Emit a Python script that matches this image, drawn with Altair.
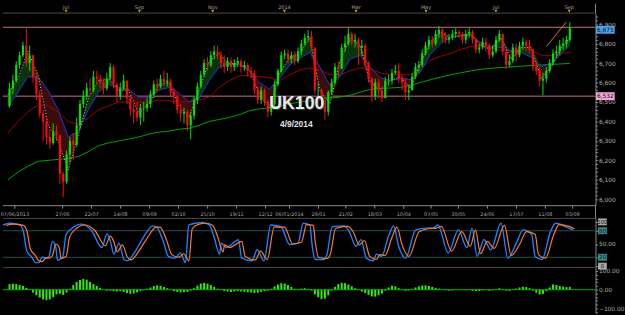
import altair as alt
import pandas as pd

# ---------------- data ----------------
# 2-day candles, trading-day index 2*i+1 (day 0 = first session on the chart)
close = [6570,6610,6690,6740,6790,6700,6740,6630,6540,6440,
         6400,6320,6290,6350,6330,6130,6090,6230,6300,6280,
         6380,6490,6530,6570,6560,6630,6620,6600,6570,6620,
         6680,6590,6530,6570,6610,6520,6460,6450,6420,6470,
         6470,6490,6540,6590,6580,6620,6600,6610,6550,6530,
         6460,6440,6450,6380,6430,6510,6580,6640,6700,6690,
         6740,6760,6740,6700,6680,6710,6680,6700,6710,6680,
         6690,6660,6650,6560,6510,6560,6500,6450,6490,6590,
         6660,6740,6750,6720,6740,6710,6760,6800,6830,6840,
         6780,6560,6560,6510,6450,6550,6600,6680,6670,6780,
         6800,6850,6810,6820,6780,6790,6700,6620,6530,6600,
         6560,6520,6610,6610,6650,6660,6620,6600,6550,6560,
         6630,6680,6690,6750,6790,6820,6800,6850,6870,6830,
         6820,6830,6850,6860,6850,6820,6850,6860,6820,6770,
         6780,6810,6790,6740,6760,6820,6850,6760,6690,6710,
         6780,6740,6790,6810,6790,6770,6680,6660,6610,6620,
         6660,6700,6750,6760,6790,6800,6820,6880]
high = [6600,6640,6710,6760,6810,6875,6790,6740,6650,6560,
        6460,6420,6360,6390,6380,6330,6140,6250,6320,6340,
        6420,6510,6560,6600,6620,6660,6660,6640,6620,6650,
        6700,6690,6600,6600,6640,6610,6530,6490,6500,6490,
        6500,6520,6560,6610,6620,6640,6660,6650,6620,6570,
        6540,6490,6470,6460,6450,6530,6600,6660,6720,6730,
        6760,6790,6790,6760,6740,6730,6730,6720,6730,6720,
        6710,6700,6680,6660,6580,6580,6570,6510,6520,6610,
        6670,6760,6770,6770,6760,6760,6780,6820,6850,6870,
        6865,6780,6600,6570,6510,6560,6620,6700,6710,6800,
        6840,6880,6860,6850,6830,6820,6800,6710,6630,6620,
        6620,6580,6630,6640,6670,6690,6700,6640,6620,6590,
        6650,6700,6710,6770,6810,6840,6840,6870,6890,6885,
        6860,6850,6870,6880,6870,6860,6870,6880,6870,6830,
        6800,6830,6830,6800,6790,6840,6870,6850,6760,6740,
        6800,6800,6810,6830,6820,6820,6770,6710,6680,6650,
        6680,6720,6770,6790,6820,6830,6840,6910]
low = [6470,6540,6600,6670,6730,6680,6660,6600,6510,6420,
       6300,6280,6260,6280,6300,6080,6010,6080,6190,6200,
       6270,6360,6470,6510,6540,6550,6590,6570,6540,6560,
       6610,6570,6500,6510,6560,6490,6430,6390,6400,6380,
       6400,6450,6470,6520,6550,6570,6580,6580,6530,6490,
       6440,6400,6390,6350,6310,6410,6490,6570,6630,6660,
       6680,6720,6720,6670,6650,6660,6650,6660,6680,6650,
       6660,6630,6620,6540,6490,6490,6480,6420,6430,6470,
       6580,6650,6720,6700,6700,6690,6700,6740,6790,6810,
       6760,6540,6520,6480,6410,6430,6540,6590,6630,6670,
       6760,6790,6790,6780,6690,6740,6680,6600,6500,6510,
       6520,6500,6520,6580,6590,6640,6600,6560,6510,6510,
       6560,6620,6650,6680,6740,6770,6780,6790,6830,6810,
       6800,6800,6820,6830,6830,6800,6800,6830,6800,6750,
       6750,6770,6760,6720,6730,6750,6810,6740,6670,6680,
       6700,6710,6730,6770,6770,6750,6660,6640,6580,6535,
       6600,6650,6690,6730,6740,6770,6780,6810]
first_open = 6480

# moving averages sampled every 6 sessions
ma_days = [0,6,12,18,24,30,36,42,48,54,60,66,72,78,84,90,96,102,108,114,
           120,126,132,138,144,150,156,162,168,174,180,186,192,198,204,210,
           216,222,228,234,240,246,252,258,264,270,276,282,288,294,300,306,
           312,318,324,330,335]
fast_ma = [6540,6620,6760,6640,6380,6300,6150,6330,6520,6610,
           6620,6560,6560,6440,6490,6590,6600,6480,6420,6560,
           6710,6750,6695,6700,6665,6540,6470,6650,6730,6750,
           6830,6560,6490,6710,6830,6790,6600,6560,6610,6630,
           6570,6700,6810,6860,6830,6840,6850,6790,6770,6830,
           6720,6780,6780,6620,6680,6780,6830]
mid_ma = [6475,6550,6630,6625,6560,6460,6320,6350,6460,6550,
          6590,6575,6565,6525,6525,6560,6575,6545,6500,6520,
          6610,6680,6695,6690,6665,6600,6565,6620,6690,6725,
          6755,6680,6585,6630,6720,6740,6680,6625,6610,6620,
          6615,6655,6745,6800,6830,6845,6840,6805,6785,6780,
          6760,6755,6730,6680,6700,6750,6790]
slow_ma = [6340,6400,6450,6485,6480,6450,6400,6385,6420,6460,
           6480,6500,6500,6500,6500,6510,6505,6500,6500,6510,
           6525,6575,6610,6635,6635,6630,6625,6610,6640,6665,
           6675,6665,6640,6640,6660,6675,6670,6650,6640,6640,
           6640,6670,6715,6735,6750,6770,6785,6790,6780,6765,
           6765,6765,6765,6740,6740,6750,6755]
long_ma = [6100,6140,6170,6195,6200,6205,6210,6220,6245,6275,
           6290,6300,6310,6320,6335,6345,6350,6360,6365,6380,
           6400,6410,6420,6435,6455,6465,6470,6480,6490,6500,
           6505,6515,6520,6525,6535,6550,6565,6570,6572,6575,
           6585,6600,6615,6628,6640,6650,6660,6668,6673,6677,
           6680,6684,6688,6690,6693,6696,6698]

# stochastic %K (blue) and %D (orange)
k_days = [0,4,10,12,14,17,19,21,23,25,27,29,31,32,35,37,40,46,52,58,
          61,63,65,68,71,73,77,82,88,90,94,97,101,104,107,109,113,117,121,124,
          127,128,131,134,138,140,146,149,153,157,163,168,173,176,180,181,183,188,190,193,
          200,203,207,210,213,217,219,222,226,229,232,236,242,248,252,255,261,267,272,275,
          278,282,286,292,296,301,305,310,312,316,321,324,330,334]
k_vals = [93,97,93,78,34,20,8,8,20,18,22,56,42,13,20,71,84,95,80,42,
          73,56,27,52,15,12,30,63,91,89,56,22,18,30,8,93,97,99,93,63,
          27,52,42,49,60,18,12,37,12,93,89,49,52,97,93,56,15,15,27,89,
          91,78,45,60,18,12,27,22,67,91,45,18,82,86,86,93,30,82,42,86,
          22,60,37,97,18,52,82,71,22,15,78,97,89,82]
d_days = [2,6,12,14,16,19,21,23,25,27,29,31,33,34,37,39,42,48,54,60,
          63,65,67,70,73,75,79,84,90,92,96,99,103,106,109,111,115,119,123,126,
          129,130,133,136,140,142,148,151,155,159,165,170,175,178,182,183,185,190,192,195,
          202,205,209,212,215,219,221,224,228,231,234,238,244,250,254,257,263,269,274,277,
          280,284,288,294,298,303,307,312,314,318,323,326,332,335]
d_vals = [92,95,92,80,40,24,12,10,18,18,24,50,42,18,22,65,82,93,80,46,
          68,55,32,48,20,14,30,60,88,88,58,26,20,28,12,85,95,97,92,65,
          32,48,42,48,56,22,14,34,15,88,88,50,54,94,92,58,20,17,28,85,
          90,80,48,58,22,15,26,24,64,88,48,22,78,85,86,90,34,78,45,82,
          28,56,40,92,24,50,78,72,26,18,72,94,90,84]

# MACD histogram, one value per 2-day candle
macd_hist = [30,32,30,25,20,10,0,-15,-30,-42,
             -52,-56,-52,-40,-25,-22,-28,-15,5,25,
             42,52,58,54,42,30,20,10,0,-5,
             -5,-8,-10,-8,-12,-18,-22,-20,-14,-8,
             -3,5,12,20,23,20,15,8,0,-8,
             -12,-15,-14,-12,-5,8,22,33,37,32,
             25,15,5,-2,-8,-10,-12,-10,-8,-9,
             -12,-14,-15,-18,-16,-12,-8,-5,5,18,
             28,35,33,25,15,5,3,6,8,5,
             -5,-25,-40,-51,-48,-30,-5,15,30,37,
             35,28,18,8,-2,-10,-18,-28,-36,-37,
             -30,-20,-5,12,21,18,8,-2,-6,-4,
             5,12,18,22,23,20,15,10,6,2,
             -3,-5,-4,-2,2,3,-3,-2,-6,-8,
             -7,-4,-2,-5,-3,4,8,4,-4,-6,
             -2,6,12,16,14,8,-5,-16,-25,-22,
             -8,12,28,25,20,16,14,15]

level_prices = [6884, 6530]
tag_prices = [6871, 6530]
tag_texts = ["6,875", "6,532"]
tag_colors = ["#4aa3f0", "#f3a8d8"]
trend_days = [321, 333]
trend_prices = [6785, 6912]

st_levels = [80, 20]
st_tag_vals = [100, 80, 20, 0]
st_tag_texts = ["100", "80", "20", "0"]
st_tag_colors = ["#a8a8a8", "#3d8c8c", "#3d8c8c", "#a8a8a8"]

month_days = [37, 80, 123, 165, 207, 248, 289, 332]
month_labels = ["Jul", "Sep", "Nov", "2014", "Mar", "May", "Jul", "Sep"]
date_days = [7, 35, 52, 69, 86, 103, 120, 137, 154, 168, 185, 201, 218, 235, 251, 267, 284, 301, 318, 334]
date_labels = ["07/06/2013", "27/06", "22/07", "14/08", "09/09", "02/10", "25/10", "19/11", "12/12",
               "06/01/2014", "29/01", "21/02", "18/03", "10/04", "07/05", "30/05", "24/06", "17/07",
               "11/08", "03/09"]
title_text = ["UK100"]
date_text = ["4/9/2014"]

# ---------------- tables ----------------
bars = pd.DataFrame({"day": [2 * i + 1 for i in range(len(close))],
                     "close": close, "high": high, "low": low})
bars["open"] = [first_open] + close[:-1]
bars["dir"] = ["up" if c >= o else "down" for c, o in zip(bars["close"], bars["open"])]
bars["zero"] = 0
bars["macd"] = macd_hist

ma = pd.DataFrame({"day": ma_days, "fast": fast_ma, "mid": mid_ma, "slow": slow_ma, "long": long_ma})
ma["up_top"] = ma[["fast", "mid"]].max(axis=1)
ma["dn_bot"] = ma[["fast", "mid"]].min(axis=1)

kdf = pd.DataFrame({"day": k_days, "v": k_vals})
ddf = pd.DataFrame({"day": d_days, "v": d_vals})
one = pd.DataFrame({"a": [0]})

# ---------------- layout ----------------
W = 603
H_TOP, H_MAIN, H_DATE, H_ST, H_MACD = 10, 195, 14, 50, 46
FONT = "DejaVu Sans"
AXC = "#b0b0b0"
LINEC = "#8c8c8c"
XS = alt.Scale(domain=[0, 347.4], nice=False, zero=False)


def xq(field="day"):
    return alt.X(f"{field}:Q", scale=XS, axis=None)


def axis(values, expr):
    return alt.Axis(orient="right", values=values, labelExpr=expr, labelFontSize=6,
                    labelColor=AXC, labelFont=FONT, tickColor=LINEC, domainColor=LINEC,
                    tickSize=2, labelPadding=1, grid=False, title=None,
                    labelOverlap=False, labelFlush=False)


MAIN_AX = axis(list(range(6000, 6960, 20)),
               "datum.value % 100 == 0 ? format(datum.value, ',') : ''")
MAIN_SC = alt.Scale(domain=[5969.7, 6954.5], nice=False, zero=False)


def ym(field):
    return alt.Y(f"{field}:Q", scale=MAIN_SC, axis=MAIN_AX)


ST_AX = axis([0, 20, 50, 80, 100], "datum.value == 50 ? '50.00' : ''")
ST_SC = alt.Scale(domain=[-4.44, 106.7], nice=False, zero=False)


def ys(field):
    return alt.Y(f"{field}:Q", scale=ST_SC, axis=ST_AX)


MACD_AX = axis(list(range(-120, 120, 20)),
               "datum.value % 100 == 0 ? format(datum.value, '.2f') : ''")
MACD_SC = alt.Scale(domain=[-126.3, 115.8], nice=False, zero=False)


def yh(field):
    return alt.Y(f"{field}:Q", scale=MACD_SC, axis=MACD_AX)


candle_color = alt.Color("dir:N", scale=alt.Scale(domain=["up", "down"], range=["#00e400", "#ff0a0a"]),
                         legend=None)

# ---- top month strip ----
mdf = pd.DataFrame({"day": month_days, "label": month_labels})
top = alt.layer(
    alt.Chart(one).mark_rule(color="#4a4a4a").encode(x=alt.value(0), x2=alt.value(W), y=alt.value(9.5)),
    alt.Chart(mdf).mark_text(fontSize=5, color="#a8a8a8", font=FONT, baseline="middle").encode(
        x=xq(), y=alt.value(3.2), text="label:N"),
    alt.Chart(mdf).mark_point(shape="triangle-down", filled=True, size=10, color="#e8a000", opacity=1).encode(
        x=xq(), y=alt.value(7.5)),
    alt.Chart(one).mark_rule(color=LINEC).encode(x=alt.value(W), y=alt.value(0), y2=alt.value(H_TOP)),
).properties(width=W, height=H_TOP)

# ---- main price panel ----
layers = [
    alt.Chart(pd.DataFrame({"p": level_prices})).mark_rule(color="#c4738f", strokeWidth=1).encode(y=ym("p")),
    alt.Chart(ma).mark_area(color="#0b330b").encode(x=xq(), y=ym("mid"), y2="up_top"),
    alt.Chart(ma).mark_area(color="#3a0c0c").encode(x=xq(), y=ym("mid"), y2="dn_bot"),
    alt.Chart(ma).mark_line(color="#00a400", strokeWidth=1).encode(x=xq(), y=ym("long")),
    alt.Chart(ma).mark_line(color="#a00000", strokeWidth=1).encode(x=xq(), y=ym("slow")),
    alt.Chart(ma).mark_line(color="#2233d8", strokeWidth=1).encode(x=xq(), y=ym("mid")),
    alt.Chart(ma).mark_line(color="#d0d0d0", strokeWidth=1, strokeDash=[1, 2]).encode(x=xq(), y=ym("fast")),
    alt.Chart(bars).mark_rule(strokeWidth=1).encode(x=xq(), y=ym("low"), y2="high", color=candle_color),
    alt.Chart(bars).mark_bar(size=2.2).encode(x=xq(), y=ym("open"), y2="close", color=candle_color),
    alt.Chart(pd.DataFrame({"day": trend_days, "p": trend_prices})).mark_line(
        color="#e07020", strokeWidth=1).encode(x=xq(), y=ym("p")),
]
for p, t, c in zip(tag_prices, tag_texts, tag_colors):
    tdf = pd.DataFrame({"p": [p], "t": [t]})
    layers.append(alt.Chart(tdf).mark_tick(size=19, thickness=8, color=c, opacity=1).encode(
        x=alt.value(613), y=ym("p")))
    layers.append(alt.Chart(tdf).mark_text(fontSize=6, color="#101010", font=FONT, baseline="middle").encode(
        x=alt.value(613), y=ym("p"), text="t:N"))
tt = pd.DataFrame({"t": title_text})
dt = pd.DataFrame({"t": date_text})
layers += [
    alt.Chart(tt).mark_text(fontSize=18, fontWeight="bold", font="Liberation Sans", color="#3c3c3c",
                            baseline="alphabetic").encode(x=alt.value(300), y=alt.value(98), text="t:N"),
    alt.Chart(tt).mark_text(fontSize=18, fontWeight="bold", font="Liberation Sans", color="#e8e8e8",
                            baseline="alphabetic").encode(x=alt.value(299), y=alt.value(97), text="t:N"),
    alt.Chart(dt).mark_text(fontSize=8.5, fontWeight="bold", font="Liberation Sans", color="#e0e0e0",
                            baseline="alphabetic").encode(x=alt.value(298.5), y=alt.value(115), text="t:N"),
]
main = alt.layer(*layers).properties(width=W, height=H_MAIN)

# ---- date ruler ----
ddates = pd.DataFrame({"day": date_days, "label": date_labels})
dates = alt.layer(
    alt.Chart(one).mark_rule(color=LINEC).encode(x=alt.value(0), x2=alt.value(W), y=alt.value(0.5)),
    alt.Chart(ddates).mark_rule(color=LINEC).encode(x=xq(), y=alt.value(0.5), y2=alt.value(3.5)),
    alt.Chart(ddates).mark_text(fontSize=5, color="#a8a8a8", font=FONT, baseline="middle").encode(
        x=xq(), y=alt.value(9), text="label:N"),
    alt.Chart(one).mark_rule(color="#4a4a4a").encode(x=alt.value(0), x2=alt.value(W), y=alt.value(13.5)),
    alt.Chart(one).mark_rule(color=LINEC).encode(x=alt.value(W), y=alt.value(0), y2=alt.value(H_DATE)),
).properties(width=W, height=H_DATE)

# ---- stochastic ----
st_layers = [
    alt.Chart(pd.DataFrame({"v": st_levels})).mark_rule(color="#2b4c4c", strokeWidth=1).encode(y=ys("v")),
    alt.Chart(kdf).mark_line(color="#1e80ff", strokeWidth=1.4, interpolate="monotone").encode(x=xq(), y=ys("v")),
    alt.Chart(ddf).mark_line(color="#ff7a2a", strokeWidth=1.2, interpolate="monotone").encode(x=xq(), y=ys("v")),
    alt.Chart(one).mark_rule(color="#4a4a4a").encode(x=alt.value(0), x2=alt.value(W), y=alt.value(H_ST - 0.5)),
]
for v, t, c in zip(st_tag_vals, st_tag_texts, st_tag_colors):
    sdf = pd.DataFrame({"v": [v], "t": [t]})
    st_layers.append(alt.Chart(sdf).mark_tick(size=9, thickness=7, color=c, opacity=1).encode(
        x=alt.value(610), y=ys("v")))
    st_layers.append(alt.Chart(sdf).mark_text(fontSize=5.5, color="#101010", font=FONT, baseline="middle").encode(
        x=alt.value(610), y=ys("v"), text="t:N"))
stoch = alt.layer(*st_layers).properties(width=W, height=H_ST)

# ---- MACD histogram ----
macd = alt.layer(
    alt.Chart(bars).mark_bar(size=2, color="#33ee00").encode(x=xq(), y=yh("macd"), y2="zero"),
    alt.Chart(pd.DataFrame({"v": [0]})).mark_rule(color="#00b000", strokeWidth=1).encode(y=yh("v")),
).properties(width=W, height=H_MACD)

chart = alt.vconcat(top, main, dates, stoch, macd, spacing=0, bounds="flush").properties(
    padding=0, background="#000000"
).configure_view(stroke=None)

chart.save("out.html", embed_options={"renderer": "svg", "actions": False})
